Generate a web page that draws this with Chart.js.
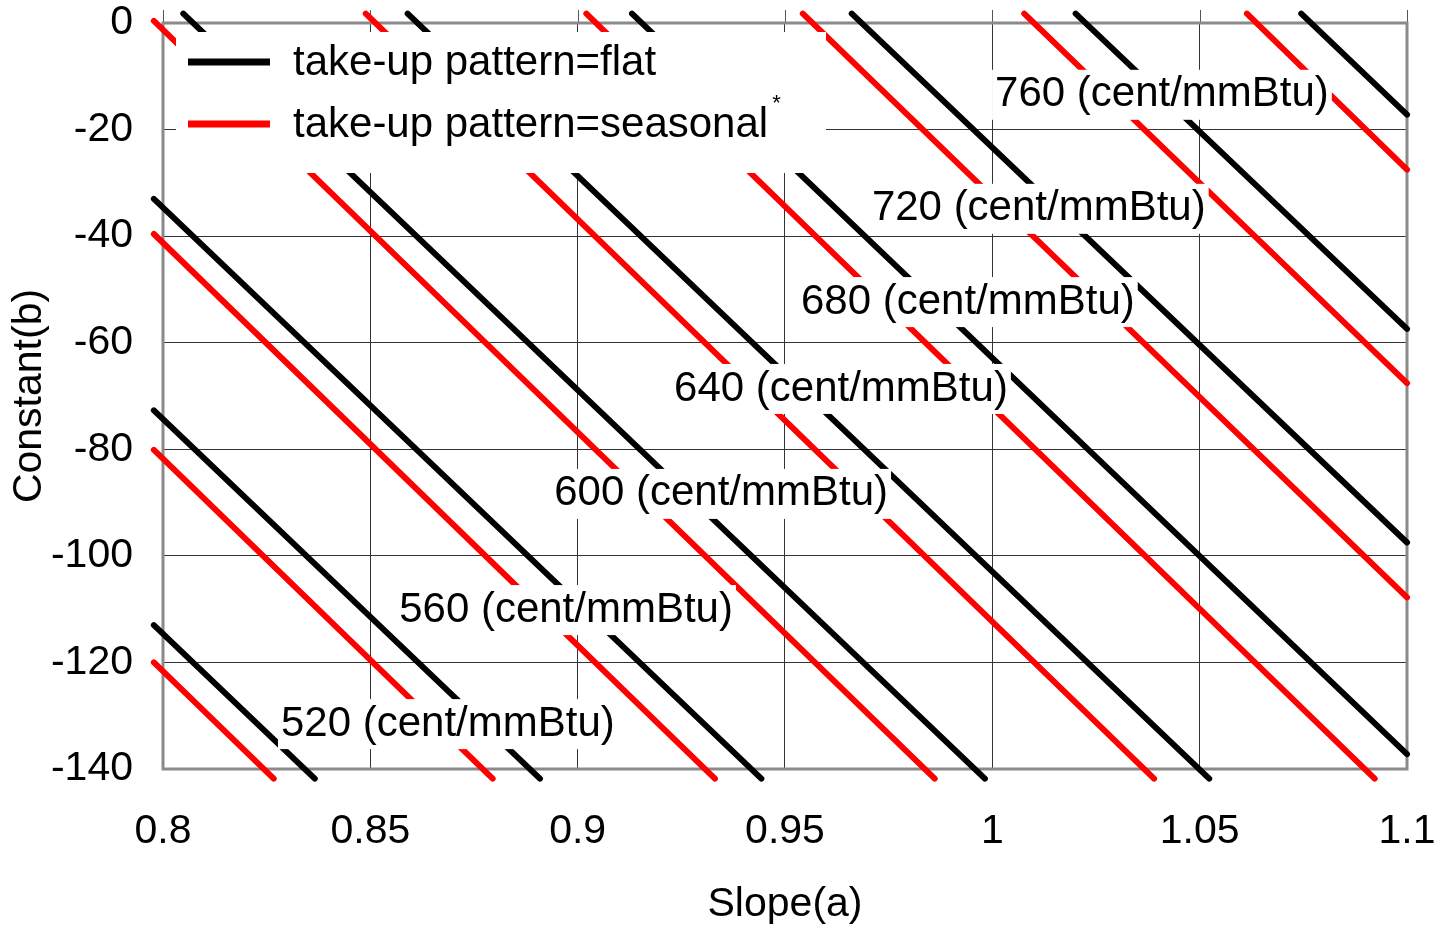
<!DOCTYPE html>
<html><head><meta charset="utf-8">
<script src="https://cdn.jsdelivr.net/npm/chart.js@4.4.1/dist/chart.umd.min.js"></script>
<style>html,body{margin:0;padding:0;background:#fff;}canvas{display:block;}</style>
</head><body>
<canvas id="c" width="1443" height="931"></canvas>
<script>
// ---- data ----
const xTickLabels = ['0.8', '0.85', '0.9', '0.95', '1', '1.05', '1.1'];
const yTickLabels = ['0', '-20', '-40', '-60', '-80', '-100', '-120', '-140'];
const seriesNames = ['take-up pattern=flat', 'take-up pattern=seasonal'];

// iso-price lines, take-up pattern = flat (start / end points)
const flatStartA = [0.7978, 0.7978, 0.7978, 0.8049, 0.8590, 0.9131, 0.9661, 1.0201, 1.0745];
const flatStartB = [-113.0, -72.7, -33.0, 1.75, 1.75, 1.75, 1.75, 1.75, 1.75];
const flatEndA   = [0.8366, 0.8909, 0.9443, 0.9982, 1.0523, 1.1, 1.1, 1.1, 1.1];
const flatEndB   = [-141.8, -141.8, -141.8, -141.8, -141.8, -137.2, -97.5, -57.4, -17.2];

// iso-price lines, take-up pattern = seasonal (start / end points)
const seasStartA = [0.7978, 0.7978, 0.7978, 0.7978, 0.8489, 0.9021, 0.9543, 1.0077, 1.0614];
const seasStartB = [-120.0, -80.1, -39.6, 0.4, 1.75, 1.75, 1.75, 1.75, 1.75];
const seasEndA   = [0.8267, 0.8795, 0.9331, 0.9861, 1.0390, 1.0922, 1.1, 1.1, 1.1];
const seasEndB   = [-141.8, -141.8, -141.8, -141.8, -141.8, -141.8, -107.8, -67.6, -27.5];

// contour labels
const priceLabels = ['520 (cent/mmBtu)', '560 (cent/mmBtu)', '600 (cent/mmBtu)', '640 (cent/mmBtu)',
                     '680 (cent/mmBtu)', '720 (cent/mmBtu)', '760 (cent/mmBtu)'];
const labelA = [0.8687, 0.8972, 0.9346, 0.9635, 0.9941, 1.0112, 1.0409];
const labelB = [-131.2, -109.8, -88.0, -68.3, -52.0, -34.5, -13.1];

// ---- build datasets ----
function segs(sa, sb, ea, eb) {
  const out = [];
  for (let i = 0; i < sa.length; i++) {
    out.push({x: sa[i], y: sb[i]});
    out.push({x: ea[i], y: eb[i]});
    out.push({x: ea[i], y: null});
  }
  return out;
}
const FONT = '"Liberation Sans", Arial, sans-serif';
Chart.defaults.font.family = FONT;
Chart.defaults.color = '#000';

const framePlugin = {
  id: 'frame',
  beforeDatasetsDraw(chart) {
    const {ctx, chartArea: a} = chart;
    const xs = chart.scales.x;
    ctx.save();
    ctx.strokeStyle = '#555';
    ctx.lineWidth = 1;
    xs.ticks.forEach(t => {
      const px = Math.round(xs.getPixelForValue(t.value)) + 0.5;
      ctx.beginPath(); ctx.moveTo(px, a.top - 13); ctx.lineTo(px, a.top); ctx.stroke();
    });
    ctx.strokeStyle = '#8a8a8a';
    ctx.lineWidth = 3;
    ctx.strokeRect(a.left, a.top, a.right - a.left, a.bottom - a.top);
    ctx.restore();
  }
};

const overlayPlugin = {
  id: 'overlay',
  afterDatasetsDraw(chart) {
    const {ctx, chartArea: a} = chart;
    const xs = chart.scales.x, ys = chart.scales.y;
    ctx.save();
    ctx.font = '42px ' + FONT;
    ctx.textAlign = 'center';
    ctx.textBaseline = 'middle';
    for (let i = 0; i < priceLabels.length; i++) {
      const px = xs.getPixelForValue(labelA[i]);
      const py = ys.getPixelForValue(labelB[i]);
      const w = ctx.measureText(priceLabels[i]).width;
      ctx.fillStyle = '#fff';
      ctx.fillRect(px - w / 2 - 3, py - 23, w + 6, 50);
      ctx.fillStyle = '#000';
      ctx.fillText(priceLabels[i], px, py + 2);
    }
    // legend
    const lx = a.left + 13, ly = a.top + 9;
    ctx.fillStyle = '#fff';
    ctx.fillRect(lx, ly, 650, 141);
    const ds = chart.data.datasets;
    const rows = [a.top + 39, a.top + 101];
    ctx.textAlign = 'left';
    for (let i = 0; i < ds.length; i++) {
      ctx.strokeStyle = ds[i].borderColor;
      ctx.lineWidth = 7;
      ctx.beginPath();
      ctx.moveTo(a.left + 25, rows[i]);
      ctx.lineTo(a.left + 107, rows[i]);
      ctx.stroke();
      ctx.fillStyle = '#000';
      ctx.font = '42px ' + FONT;
      ctx.fillText(ds[i].label, a.left + 130, rows[i] + 1);
      if (i === 1) {
        const w = ctx.measureText(ds[i].label).width;
        ctx.font = '22px ' + FONT;
        ctx.fillText('*', a.left + 130 + w + 4, rows[i] - 20);
      }
    }
    ctx.restore();
  }
};

function noPad(s) { s.paddingTop = 0; s.paddingBottom = 0; s.paddingLeft = 0; s.paddingRight = 0; }

new Chart(document.getElementById('c'), {
  type: 'line',
  data: {
    datasets: [
      {label: seriesNames[0], data: segs(flatStartA, flatStartB, flatEndA, flatEndB),
       borderColor: '#000000', borderWidth: 6, pointRadius: 0, clip: false,
       borderCapStyle: 'round', spanGaps: false, tension: 0},
      {label: seriesNames[1], data: segs(seasStartA, seasStartB, seasEndA, seasEndB),
       borderColor: '#ff0000', borderWidth: 6, pointRadius: 0, clip: false,
       borderCapStyle: 'round', spanGaps: false, tension: 0}
    ]
  },
  options: {
    responsive: false,
    animation: false,
    devicePixelRatio: 1,
    layout: {padding: {top: 23, right: 36, left: 0, bottom: 0}},
    plugins: {legend: {display: false}, tooltip: {enabled: false}},
    scales: {
      x: {
        type: 'linear', min: 0.8, max: 1.1,
        afterBuildTicks: s => { s.ticks = xTickLabels.map(v => ({value: parseFloat(v)})); },
        ticks: {font: {size: 41}, padding: 38, maxRotation: 0,
                callback: (v, i) => xTickLabels[i]},
        grid: {color: '#333', lineWidth: 1, drawTicks: false},
        border: {display: false},
        title: {display: true, text: 'Slope(a)', font: {size: 41}, padding: {top: 0, bottom: 2}},
        afterFit: s => { s.height = 162; noPad(s); }
      },
      y: {
        type: 'linear', min: -140, max: 0,
        afterBuildTicks: s => { s.ticks = yTickLabels.map(v => ({value: parseFloat(v)})); },
        ticks: {font: {size: 41}, padding: 30, callback: (v, i) => yTickLabels[i]},
        grid: {color: '#333', lineWidth: 1, drawTicks: false},
        border: {display: false},
        title: {display: true, text: 'Constant(b)', font: {size: 41}, padding: {top: 5, bottom: 0}},
        afterFit: s => { s.width = 163; noPad(s); }
      }
    }
  },
  plugins: [framePlugin, overlayPlugin]
});
</script>
</body></html>
